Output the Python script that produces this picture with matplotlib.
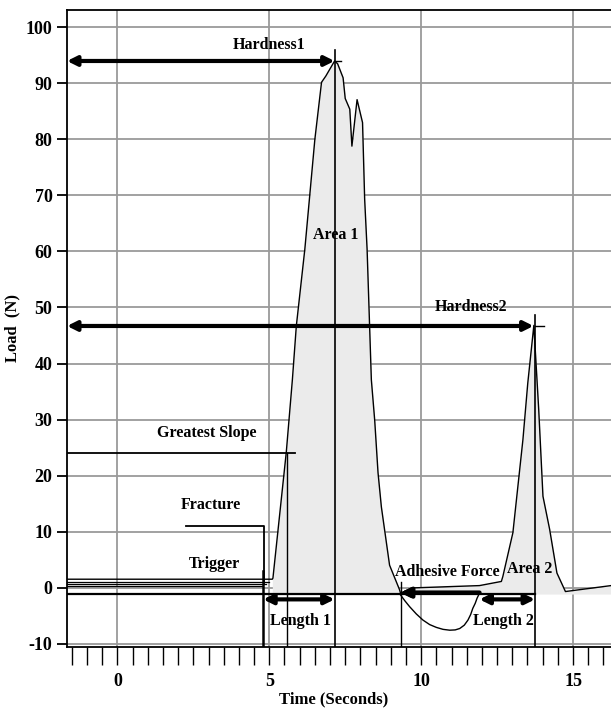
import numpy as np
import matplotlib
matplotlib.use("Agg")
import matplotlib.pyplot as plt

# ---------------- data ----------------
# main load curve (time s, load N)
curve_t = [-1.66, 5.10, 5.12, 5.56, 5.76, 5.89, 6.17, 6.50, 6.72, 6.86, 7.15, 7.25, 7.43, 7.50,
           7.65, 7.72, 7.89, 8.07, 8.14, 8.22, 8.36, 8.47, 8.58, 8.69, 8.96, 9.29, 9.32,
           9.73, 11.92, 12.64, 12.69, 13.02, 13.35, 13.51, 13.71, 13.87, 14.01, 14.23, 14.47,
           14.75, 16.25]
curve_load = [1.5, 1.5, 1.7, 24.2, 37.1, 46.7, 60.4, 80.0, 90.2, 91.3, 94.0, 93.5, 91.0, 87.3,
              85.4, 78.8, 87.1, 83.0, 69.3, 60.4, 37.1, 29.9, 20.5, 14.4, 4.0, -0.4, -1.0,
              -0.05, 0.36, 1.1, 2.0, 9.8, 26.4, 36.5, 46.8, 31.8, 16.3, 10.4, 2.6,
              -0.7, 0.36]

# adhesive (negative) dip
dip_t = [9.32, 9.47, 9.62, 9.84, 10.06, 10.28, 10.50, 10.72, 10.94, 11.12, 11.27, 11.42,
         11.54, 11.63, 11.70, 11.78, 11.84, 11.92]
dip_load = [-1.3, -2.4, -3.4, -4.7, -5.8, -6.6, -7.1, -7.45, -7.6, -7.55, -7.3, -6.7,
            -5.8, -4.8, -3.7, -2.8, -1.9, -1.0]

# trigger lines near zero
trig_levels = [1.05, 0.6, 0.25]
trig_ends = [4.98, 4.9, 4.75]

# key points
fill_start = 5.05
fill_base = -1.15
trigger_t = 4.8
trigger_top = 3.0
fracture_t0, fracture_t1, fracture_load, fracture_bottom = 2.25, 4.83, 11.0, 0.8
slope_t, slope_load, slope_end = 5.59, 24.0, 5.84
peak1_t, hardness1, peak1_top = 7.15, 94.0, 96.0
adh_t, adh_top, adh_end, adh_load = 9.32, 1.0, 11.92, -0.9
peak2_t, hardness2, peak2_top = 13.75, 46.7, 48.7
length_load = -2.1
base_load = -1.15

x_range = (-1.66, 16.25)
y_range = (-10.6, 103.1)
y_ticks = list(range(-10, 101, 10))
x_major = [0, 5, 10, 15]
x_minor = list(np.arange(-1.5, 16.01, 0.5))

labels = {
    "Hardness1": (5.0, 96.8),
    "Hardness2": (11.63, 50.1),
    "Area 1": (7.2, 63.0),
    "Area 2": (13.57, 3.4),
    "Greatest Slope": (2.93, 27.6),
    "Fracture": (3.08, 14.7),
    "Trigger": (3.2, 4.3),
    "Adhesive Force": (10.87, 2.7),
    "Length 1": (6.04, -5.9),
    "Length 2": (12.7, -5.9),
}

# ---------------- plot ----------------
FONT = "Liberation Serif"
plt.rcParams["font.family"] = [FONT, "DejaVu Serif"]
plt.rcParams["font.weight"] = "bold"

fig = plt.figure(figsize=(6.11, 7.11), dpi=100)
ax = fig.add_axes([67 / 611, 1 - 647 / 711, (611 - 67) / 611, (647 - 10) / 711])
ax.set_xlim(*x_range)
ax.set_ylim(*y_range)

# grid
for xv in x_major:
    ax.axvline(xv, color="#9a9a9a", lw=1.3, zorder=0)
for yv in y_ticks:
    ax.axhline(yv, color="#9a9a9a", lw=1.3, zorder=0)

ct = np.array(curve_t)
cl = np.array(curve_load)
mask = ct >= fill_start
ax.fill_between(ct[mask], cl[mask], fill_base, color="#ebebeb", zorder=1, lw=0)
ax.plot(ct, cl, color="black", lw=1.0, zorder=3)
ax.plot(dip_t, dip_load, color="black", lw=1.0, zorder=3)

# baseline & trigger lines
ax.plot([x_range[0], peak2_t], [base_load, base_load], color="black", lw=1.6, zorder=3)
for lv, te in zip(trig_levels, trig_ends):
    ax.plot([x_range[0], te], [lv, lv], color="black", lw=0.9, zorder=3)
ax.plot([trigger_t, trigger_t], [trigger_top, y_range[0]], color="black", lw=1.8, zorder=3)

# fracture
ax.plot([fracture_t0, fracture_t1, fracture_t1], [fracture_load, fracture_load, fracture_bottom],
        color="black", lw=1.3, zorder=3)

# greatest slope
ax.plot([x_range[0], slope_end], [slope_load, slope_load], color="black", lw=1.3, zorder=3)
ax.plot([slope_t, slope_t], [slope_load, y_range[0]], color="black", lw=1.0, zorder=3)

# vertical markers
ax.plot([peak1_t, peak1_t], [peak1_top, y_range[0]], color="black", lw=1.2, zorder=3)
ax.plot([adh_t, adh_t], [adh_top, y_range[0]], color="black", lw=1.0, zorder=3)
ax.plot([peak2_t, peak2_t], [peak2_top, y_range[0]], color="black", lw=1.2, zorder=3)

arrow_kw = dict(arrowstyle="<|-|>", lw=3, color="black", mutation_scale=14,
                shrinkA=0, shrinkB=0)
# hardness arrows
ax.annotate("", xy=(peak1_t, hardness1), xytext=(x_range[0], hardness1), arrowprops=arrow_kw, zorder=4)
ax.plot([peak1_t, peak1_t + 0.22], [hardness1, hardness1], color="black", lw=1.0)
ax.annotate("", xy=(peak2_t - 0.05, hardness2), xytext=(x_range[0], hardness2), arrowprops=arrow_kw, zorder=4)
ax.plot([peak2_t, peak2_t + 0.3], [hardness2, hardness2], color="black", lw=1.0)

# length arrows
ax.annotate("", xy=(peak1_t, length_load), xytext=(trigger_t, length_load), arrowprops=arrow_kw, zorder=4)
ax.annotate("", xy=(peak2_t, length_load), xytext=(adh_end, length_load), arrowprops=arrow_kw, zorder=4)

# adhesive force arrow
ax.annotate("", xy=(adh_end, adh_load), xytext=(adh_t, adh_load),
            arrowprops=dict(arrowstyle="<|-", lw=3.2, color="black", mutation_scale=14,
                            shrinkA=0, shrinkB=0), zorder=4)
ax.annotate("", xy=(adh_t, adh_load), xytext=(adh_t + 0.5, adh_load),
            arrowprops=dict(arrowstyle="->", lw=2.0, color="black", mutation_scale=14,
                            shrinkA=0, shrinkB=0), zorder=4)

for txt, (tx, ty) in labels.items():
    ax.text(tx, ty, txt, ha="center", va="center", fontsize=11.5, fontweight="bold",
            family=FONT, zorder=5)

# axes styling
for s in ["top", "left", "bottom"]:
    ax.spines[s].set_color("black")
    ax.spines[s].set_linewidth(1.3)
ax.spines["right"].set_visible(False)

ax.set_yticks(y_ticks)
ax.set_yticklabels([str(v) for v in y_ticks])
ax.set_xticks(x_major)
ax.set_xticklabels([str(v) for v in x_major])
ax.set_xticks(x_minor, minor=True)
ax.tick_params(axis="y", direction="out", length=7.5, width=1.3, pad=3, labelsize=13)
ax.tick_params(axis="x", which="both", direction="out", length=13, width=1.0, pad=6, labelsize=13)
for lab in ax.get_xticklabels() + ax.get_yticklabels():
    lab.set_fontweight("bold")
    lab.set_family(FONT)

ax.set_xlabel("Time (Seconds)", fontsize=12, fontweight="bold", family=FONT)
ax.xaxis.label.set_verticalalignment("center")
ax.xaxis.set_label_coords((334 - 67) / 544, (647 - 699) / 637)
ax.set_ylabel("Load  (N)", fontsize=12, fontweight="bold", family=FONT)
ax.yaxis.set_label_coords((20 - 67) / 544, 0.5)

fig.savefig("out.png", dpi=100)
